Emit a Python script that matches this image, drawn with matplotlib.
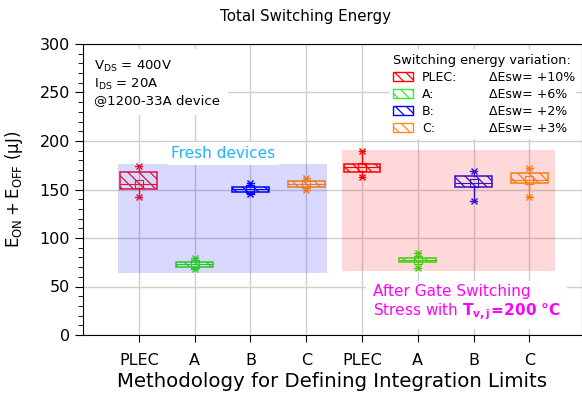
import numpy as np
import matplotlib
matplotlib.use("Agg")
import matplotlib.pyplot as plt
from matplotlib.patches import Patch, Rectangle

# categories on the x axis (fresh group, then stressed group)
labels = ["PLEC", "A", "B", "C", "PLEC", "A", "B", "C"]
positions = [1, 2, 3, 4, 5, 6, 7, 8]

# box statistics (uJ)
q1 = [150.2, 70.4, 147.4, 152.9, 168.0, 74.9, 152.9, 156.4]
q3 = [167.7, 75.3, 152.9, 158.4, 176.3, 79.7, 163.9, 167.3]
med = [156.0, 73.0, 150.5, 156.0, 173.0, 77.0, 157.0, 160.0]
whislo = [142.6, 67.7, 145.4, 149.5, 162.6, 68.7, 138.1, 142.6]
whishi = [174.0, 79.0, 156.4, 162.0, 190.0, 84.2, 169.4, 172.5]

colors = ["#DC143C", "#22CC22", "#0000FF", "#E87A22",
          "#FF0000", "#44CC11", "#3311CC", "#FF7A10"]

# shaded groups: (x0, x1, y0, y1)
fresh_area = (0.63, 4.38, 64.2, 176.3)
stress_area = (4.65, 8.46, 66.3, 190.7)

legend_names = ["PLEC:", "A:", "B:", "C:"]
legend_colors = ["#FF0000", "#33EE33", "#0000FF", "#FF8C1A"]
legend_delta = ["+10%", "+6%", "+2%", "+3%"]

plt.rcParams["hatch.linewidth"] = 0.9

fig = plt.figure(figsize=(5.82, 4.01), dpi=100)
ax = fig.add_axes([83 / 582, 1 - 335 / 401, 1 - 83 / 582, (335 - 44) / 401])

ax.set_axisbelow(True)
ax.grid(True, color="#CFCFCF", linewidth=1.0)

for (x0, x1, y0, y1), c in [(fresh_area, "#0000FF"), (stress_area, "#FF0000")]:
    ax.add_patch(Rectangle((x0, y0), x1 - x0, y1 - y0, facecolor=c,
                           alpha=0.15, edgecolor="none", zorder=1))

stats = []
for i in range(len(labels)):
    stats.append(dict(q1=q1[i], q3=q3[i], med=med[i], mean=med[i],
                      whislo=whislo[i], whishi=whishi[i],
                      fliers=[whislo[i], whishi[i]]))

for i in range(len(labels)):
    c = colors[i]
    ax.bxp([stats[i]], positions=[positions[i]], widths=0.66, patch_artist=True,
           showmeans=True, capwidths=0.12, manage_ticks=False, zorder=3,
           boxprops=dict(facecolor="none", edgecolor=c, hatch="\\\\\\", linewidth=1.1),
           medianprops=dict(color=c, linewidth=0.8),
           whiskerprops=dict(color=c, linewidth=1.0),
           capprops=dict(color=c, linewidth=1.0),
           meanprops=dict(marker="s", markerfacecolor="none", markeredgecolor=c,
                          markersize=6, markeredgewidth=0.8),
           flierprops=dict(marker="x", markeredgecolor=c, markersize=5,
                           markeredgewidth=1.0))

ax.set_xlim(0, 499 / 55.8)
ax.set_ylim(0, 300)
ax.set_xticks(positions)
ax.set_xticklabels(labels, fontsize=11.5)
ax.set_yticks(np.arange(0, 301, 50))
ax.set_yticks(np.arange(0, 301, 10), minor=True)
ax.tick_params(axis="y", which="major", labelsize=11.5, length=6, direction="out")
ax.tick_params(axis="y", which="minor", length=3.5, direction="out")
ax.tick_params(axis="x", length=5, direction="out", pad=8)

fig.text(306 / 582, 1 - 17 / 401, "Total Switching Energy", fontsize=10.8,
         ha="center", va="center")
ax.set_xlabel("Methodology for Defining Integration Limits", fontsize=14.2, labelpad=3)
ax.set_ylabel(r"$\mathrm{E_{ON}+E_{OFF}}$ (μJ)", fontsize=12, labelpad=10)

ax.text(0.022, 0.95, "V$_\\mathrm{DS}$ = 400V\nI$_\\mathrm{DS}$ = 20A\n@1200-33A device",
        transform=ax.transAxes, fontsize=9.5, va="top", ha="left", linespacing=1.25,
        bbox=dict(facecolor="white", edgecolor="none", pad=6), zorder=4)

ax.text(2.51, 187.5, "Fresh devices", color="#1EB4FF", fontsize=11, ha="center",
        va="center", bbox=dict(facecolor="white", edgecolor="none", pad=3), zorder=4)

ax.text(5.2, 33, "After Gate Switching\nStress with $\\mathbf{T_{v,j}\\!=\\!200\\ °C}$",
        color="#FF00FF", fontsize=11, ha="left", va="center", linespacing=1.2,
        bbox=dict(facecolor="white", edgecolor="none", pad=5), zorder=4)

handles = [Patch(facecolor="none", edgecolor=c, hatch="\\\\\\", linewidth=1.0)
           for c in legend_colors]
leg = ax.legend(handles, legend_names, title="Switching energy variation:",
                loc="upper left", bbox_to_anchor=(0.608, 0.99), fontsize=9,
                title_fontsize=9.3, alignment="left", handlelength=1.6,
                handleheight=0.65, labelspacing=0.32, handletextpad=0.7,
                borderpad=0.35, borderaxespad=0.2, framealpha=1,
                edgecolor="none", fancybox=False)
leg.set_zorder(5)

fig.canvas.draw()
for t, d in zip(leg.get_texts(), legend_delta):
    bb = t.get_window_extent()
    fig.text(489 / 582, (bb.y0 + bb.y1) / 2 / fig.bbox.height, "ΔEsw= " + d,
             fontsize=9, va="center", ha="left", zorder=6)

fig.savefig("out.png", dpi=100)
